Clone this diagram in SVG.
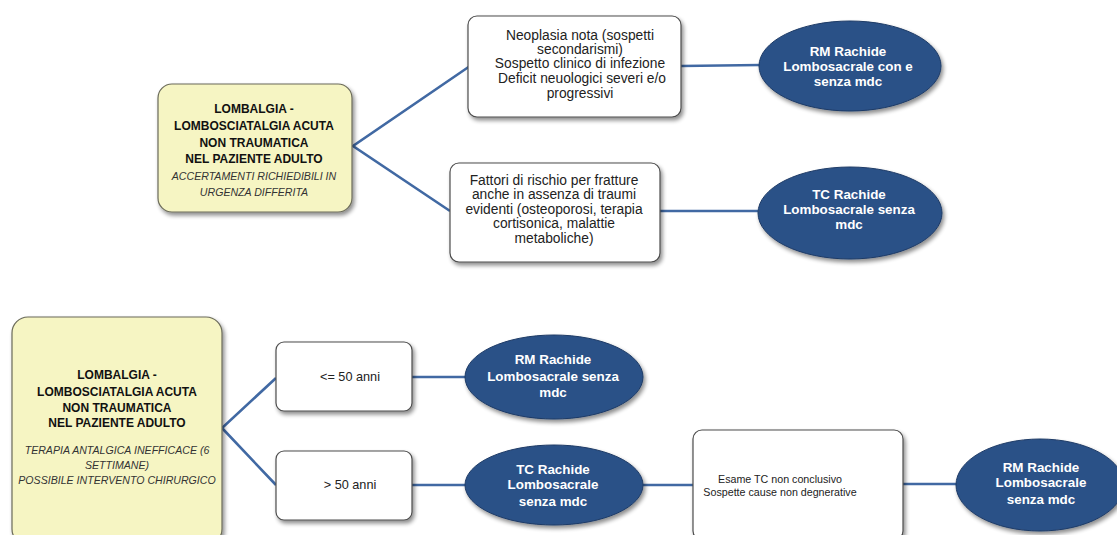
<svg xmlns="http://www.w3.org/2000/svg" width="1117" height="535" viewBox="0 0 1117 535">
<defs>
<filter id="sh" x="-10%" y="-10%" width="125%" height="130%">
<feGaussianBlur in="SourceAlpha" stdDeviation="2"/>
<feOffset dx="1.5" dy="2.5" result="o"/>
<feComponentTransfer><feFuncA type="linear" slope="0.45"/></feComponentTransfer>
<feMerge><feMergeNode/><feMergeNode in="SourceGraphic"/></feMerge>
</filter>
</defs>
<style>
.y{fill:#f6f5c3;stroke:#6b6b5a;stroke-width:1.2;filter:url(#sh)}
.w{fill:#ffffff;stroke:#4d4d4d;stroke-width:1.2;filter:url(#sh)}
.e{fill:#2b5187;stroke:#1e3b66;stroke-width:1;filter:url(#sh)}
.c{fill:none;stroke:#4169a3;stroke-width:2.6}
text{font-family:"Liberation Sans",Arial,sans-serif;text-anchor:middle;fill:#222}
.b{font-weight:bold;font-size:12px;fill:#111}
.i{font-style:italic;font-size:10.6px;fill:#333}
.n{font-size:13.8px}
.s{font-size:10.7px}
.a{font-size:12.7px}
.et{font-weight:bold;font-size:13.4px;fill:#ffffff}
</style>
<rect width="1117" height="535" fill="#ffffff"/>
<g id="connectors">
<polyline class="c" points="470,66 353,146 450,211"/>
<line class="c" x1="681" y1="66" x2="760" y2="65"/>
<line class="c" x1="660" y1="211" x2="758" y2="211"/>
<polyline class="c" points="276,378 222,428 276,485"/>
<line class="c" x1="412" y1="377" x2="466" y2="377"/>
<line class="c" x1="412" y1="485" x2="466" y2="485"/>
<line class="c" x1="643" y1="485" x2="693" y2="485"/>
<line class="c" x1="903" y1="484" x2="958" y2="484"/>
</g>
<g id="n1">
<rect class="y" x="158" y="84" width="194" height="128" rx="14"/>
<text class="b" x="254" y="113">LOMBALGIA -</text>
<text class="b" x="254" y="130">LOMBOSCIATALGIA ACUTA</text>
<text class="b" x="254" y="147">NON TRAUMATICA</text>
<text class="b" x="254" y="163">NEL PAZIENTE ADULTO</text>
<text class="i" x="254" y="180">ACCERTAMENTI RICHIEDIBILI IN</text>
<text class="i" x="254" y="196">URGENZA DIFFERITA</text>
</g>
<g id="n2">
<rect class="w" x="468" y="16" width="213" height="101" rx="9"/>
<text class="n" x="580" y="40">Neoplasia nota (sospetti</text>
<text class="n" x="580" y="54">secondarismi)</text>
<text class="n" x="580" y="68">Sospetto clinico di infezione</text>
<text class="n" x="582" y="83">Deficit neuologici severi e/o</text>
<text class="n" x="580" y="98">progressivi</text>
</g>
<g id="n3">
<rect class="w" x="450" y="163" width="210" height="99" rx="9"/>
<text class="n" x="554" y="185">Fattori di rischio per fratture</text>
<text class="n" x="554" y="199">anche in assenza di traumi</text>
<text class="n" x="554" y="214">evidenti (osteoporosi, terapia</text>
<text class="n" x="554" y="228">cortisonica, malattie</text>
<text class="n" x="554" y="243">metaboliche)</text>
</g>
<g id="n4">
<ellipse class="e" cx="850" cy="66" rx="91" ry="45"/>
<text class="et" x="848" y="56">RM Rachide</text>
<text class="et" x="848" y="71">Lombosacrale con e</text>
<text class="et" x="848" y="86">senza mdc</text>
</g>
<g id="n5">
<ellipse class="e" cx="850" cy="213" rx="92" ry="46"/>
<text class="et" x="849" y="199">TC Rachide</text>
<text class="et" x="849" y="214">Lombosacrale senza</text>
<text class="et" x="849" y="229">mdc</text>
</g>
<g id="n6">
<rect class="y" x="12" y="317" width="210" height="228" rx="16"/>
<text class="b" x="117" y="379">LOMBALGIA -</text>
<text class="b" x="117" y="396">LOMBOSCIATALGIA ACUTA</text>
<text class="b" x="117" y="412">NON TRAUMATICA</text>
<text class="b" x="117" y="427">NEL PAZIENTE ADULTO</text>
<text class="i" x="117" y="454">TERAPIA ANTALGICA INEFFICACE (6</text>
<text class="i" x="117" y="469">SETTIMANE)</text>
<text class="i" x="117" y="484">POSSIBILE INTERVENTO CHIRURGICO</text>
</g>
<g id="n7">
<rect class="w" x="276" y="342" width="136" height="69" rx="8"/>
<text class="a" x="350" y="381">&lt;= 50 anni</text>
</g>
<g id="n8">
<rect class="w" x="276" y="451" width="136" height="69" rx="8"/>
<text class="a" x="350" y="489">&gt; 50 anni</text>
</g>
<g id="n9">
<ellipse class="e" cx="554" cy="377" rx="89" ry="42"/>
<text class="et" x="553" y="364">RM Rachide</text>
<text class="et" x="553" y="381">Lombosacrale senza</text>
<text class="et" x="553" y="397">mdc</text>
</g>
<g id="n10">
<ellipse class="e" cx="554" cy="485" rx="89" ry="40"/>
<text class="et" x="553" y="474">TC Rachide</text>
<text class="et" x="553" y="489">Lombosacrale</text>
<text class="et" x="553" y="506">senza mdc</text>
</g>
<g id="n11">
<rect class="w" x="693" y="430" width="210" height="110" rx="9"/>
<text class="s" x="780" y="483">Esame TC non conclusivo</text>
<text class="s" x="780" y="496">Sospette cause non degnerative</text>
</g>
<g id="n12">
<ellipse class="e" cx="1040" cy="485" rx="84" ry="46"/>
<text class="et" x="1041" y="472">RM Rachide</text>
<text class="et" x="1041" y="487">Lombosacrale</text>
<text class="et" x="1041" y="504">senza mdc</text>
</g>
</svg>
